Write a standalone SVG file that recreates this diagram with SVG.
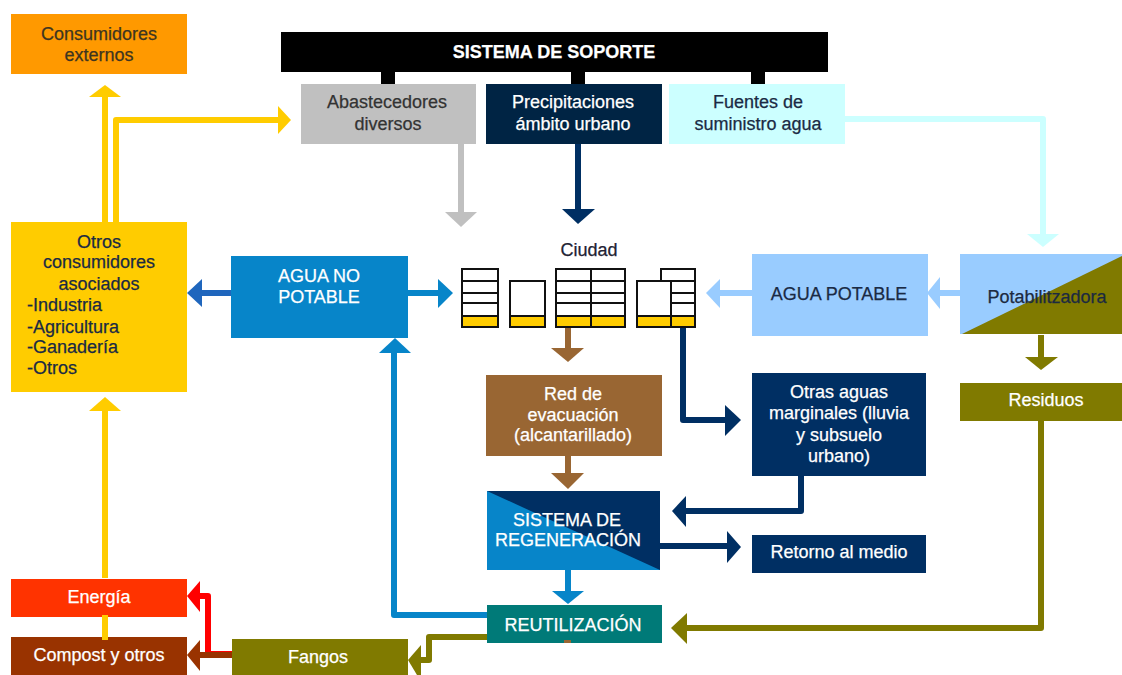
<svg xmlns="http://www.w3.org/2000/svg" width="1122" height="675" viewBox="0 0 1122 675">
<style>
text{font-family:"Liberation Sans",Arial,sans-serif;font-size:18px;text-anchor:middle;stroke-width:.25;transform:translateY(.6px)}
.s{text-anchor:start}
.w{fill:#fff;stroke:#fff}.d{fill:#1a2a44;stroke:#1a2a44}.o{fill:#3d3520;stroke:#3d3520}
.l{fill:none;stroke-width:6;stroke-linejoin:round}
.b{fill:#fff;stroke:#111;stroke-width:2}
.y{fill:#ffcc00;stroke:#111;stroke-width:2}
</style>
<rect width="1122" height="675" fill="#fff"/>
<g id="connectors">
<path class="l" stroke="#ffcc00" d="M105 222V96"/><path fill="#ffcc00" d="M89 97H121L105 85Z"/>
<path class="l" stroke="#ffcc00" d="M116 222V120H280"/><path fill="#ffcc00" d="M278 106V134L291 120Z"/>
<path class="l" stroke="#c0c0c0" d="M461 143V213"/><path fill="#c0c0c0" d="M445 212H477L461 227Z"/>
<path class="l" stroke="#002f63" d="M578 143V210"/><path fill="#002f63" d="M562 209H595L578 224Z"/>
<path class="l" stroke="#ccffff" d="M845 119H1043V235"/><path fill="#ccffff" d="M1027 234H1059L1043 247Z"/>
<path class="l" stroke="#1f66bd" d="M231 293H200"/><path fill="#1f66bd" d="M202 279V307L187 293Z"/>
<path class="l" stroke="#0785c9" d="M408 293H440"/><path fill="#0785c9" d="M438 279V308L453 293Z"/>
<path class="l" stroke="#99ccff" d="M752 293H718"/><path fill="#99ccff" d="M720 279V308L706 293Z"/>
<path class="l" stroke="#99ccff" d="M960 293H938"/><path fill="#99ccff" d="M940 277V309L927 293Z"/>
<path class="l" stroke="#807a00" d="M1041 335V358"/><path fill="#807a00" d="M1025 357H1058L1041 370Z"/>
<path class="l" stroke="#807a00" d="M1041 420V628H685"/><path fill="#807a00" d="M687 613V644L671 628Z"/>
<path class="l" stroke="#996633" d="M568 328V350"/><path fill="#996633" d="M551 348H584L568 362Z"/>
<path class="l" stroke="#996633" d="M568 456V474"/><path fill="#996633" d="M551 473H584L568 489Z"/>
<path class="l" stroke="#002f63" d="M683 328V420H727"/><path fill="#002f63" d="M725 405V436L741 420Z"/>
<path class="l" stroke="#002f63" d="M801 476V511H685"/><path fill="#002f63" d="M686 496V527L672 511Z"/>
<path class="l" stroke="#002f63" d="M660 546H728"/><path fill="#002f63" d="M727 531V563L741 547Z"/>
<path class="l" stroke="#0785c9" d="M568 570V592"/><path fill="#0785c9" d="M552 591H584L568 604Z"/>
<path class="l" stroke="#0785c9" d="M487 615H394V352"/><path fill="#0785c9" d="M379 353H411L395 338Z"/>
<path class="l" stroke="#807a00" d="M487 637H429V660H420"/><path fill="#807a00" d="M421 645V675H417L408 660Z"/>
<path class="l" stroke="#ff0000" d="M232 654H208V596H198"/><path fill="#ff0000" d="M200 581V612L187 596Z"/>
<path class="l" stroke="#993300" d="M232 655H198"/><path fill="#993300" d="M200 640V671L187 655Z"/>
<path class="l" stroke="#ffcc00" d="M105 578V404"/><path fill="#ffcc00" d="M89 411H121L105 397Z"/>
<path fill="#000" d="M381 70H395V86H381ZM571 70H585V86H571ZM751 70H765V86H751Z"/>
</g>
<g id="consumidores"><rect x="11" y="14" width="176" height="60" fill="#ff9900"/><text class="o" x="99" y="39">Consumidores</text><text class="o" x="99" y="60">externos</text></g>
<g id="soporte"><rect x="281" y="32" width="547" height="40" fill="#000"/><text class="w" x="554" y="57" font-weight="bold">SISTEMA DE SOPORTE</text></g>
<g id="abastecedores"><rect x="301" y="84" width="175" height="60" fill="#c0c0c0"/><text x="387" y="107" fill="#333" stroke="#333">Abastecedores</text><text x="388" y="129" fill="#333" stroke="#333">diversos</text></g>
<g id="precipitaciones"><rect x="486" y="84" width="176" height="60" fill="#002444"/><text class="w" x="573" y="107">Precipitaciones</text><text class="w" x="573" y="129">ámbito urbano</text></g>
<g id="fuentes"><rect x="669" y="84" width="176" height="60" fill="#ccffff"/><text class="d" x="758" y="107">Fuentes de</text><text class="d" x="758" y="129">suministro agua</text></g>
<g id="otros"><rect x="11" y="222" width="176" height="170" fill="#ffcc00"/>
<text class="d" x="99" y="247">Otros</text><text class="d" x="99" y="267">consumidores</text><text class="d" x="99" y="289">asociados</text>
<text class="d s" x="27" y="310">-Industria</text><text class="d s" x="27" y="332">-Agricultura</text><text class="d s" x="27" y="352">-Ganadería</text><text class="d s" x="27" y="373">-Otros</text></g>
<g id="agua-no-potable"><rect x="231" y="256" width="177" height="82" fill="#0785c9"/><text class="w" x="319" y="281">AGUA NO</text><text class="w" x="319" y="302">POTABLE</text></g>
<g id="ciudad"><text x="589" y="255" fill="#223" stroke="#223">Ciudad</text>
<rect class="b" x="462" y="269" width="36" height="58"/><path class="b" d="M462 281H498M462 293H498M462 303H498"/><rect class="y" x="462" y="316" width="36" height="11"/>
<rect class="b" x="510" y="281" width="35" height="46"/><rect class="y" x="510" y="316" width="35" height="11"/>
<rect class="b" x="556" y="269" width="69" height="58"/><path class="b" d="M556 281H625M556 293H625M556 303H625M591 269V327"/><rect class="y" x="556" y="316" width="69" height="11"/><path class="b" d="M591 316V327"/>
<rect class="b" x="661" y="269" width="34" height="58"/><path class="b" d="M661 281H695M661 293H695M661 303H695"/><rect class="b" x="637" y="281" width="34" height="46"/><rect class="y" x="637" y="316" width="58" height="11"/><path class="b" d="M671 316V327"/></g>
<g id="agua-potable"><rect x="752" y="254" width="176" height="82" fill="#99ccff"/><text class="d" x="839" y="299">AGUA POTABLE</text></g>
<g id="potabilizadora"><rect x="960" y="254" width="162" height="80" fill="#99ccff"/><path d="M962 334L1122 256V334Z" fill="#807a00"/><text x="1047" y="302" fill="#1c2a40" stroke="#1c2a40">Potabilitzadora</text></g>
<g id="residuos"><rect x="960" y="383" width="162" height="38" fill="#807a00"/><text class="w" x="1046" y="405">Residuos</text></g>
<g id="red"><rect x="486" y="375" width="176" height="81" fill="#996633"/><text class="w" x="573" y="399">Red de</text><text class="w" x="573" y="420">evacuación</text><text class="w" x="573" y="440">(alcantarillado)</text></g>
<g id="marginales"><rect x="752" y="373" width="174" height="103" fill="#002f63"/><text class="w" x="839" y="397">Otras aguas</text><text class="w" x="839" y="418">marginales (lluvia</text><text class="w" x="839" y="440">y subsuelo</text><text class="w" x="839" y="461">urbano)</text></g>
<g id="regeneracion"><rect x="487" y="491" width="173" height="79" fill="#002f63"/><path d="M487 491L660 570H487Z" fill="#0785c9"/><text class="w" x="567" y="525">SISTEMA DE</text><text class="w" x="568" y="545">REGENERACIÓN</text></g>
<g id="retorno"><rect x="752" y="535" width="174" height="38" fill="#002f63"/><text class="w" x="839" y="557">Retorno al medio</text></g>
<g id="reutilizacion"><rect x="487" y="605" width="175" height="38" fill="#007a78"/><text class="w" x="573" y="630">REUTILIZACIÓN</text></g>
<g id="energia"><rect x="11" y="579" width="176" height="38" fill="#ff3300"/><text class="w" x="99" y="602">Energía</text></g>
<g id="compost"><rect x="11" y="637" width="176" height="38" fill="#993300"/><text class="w" x="99" y="660">Compost y otros</text></g>
<g id="fangos"><rect x="232" y="639" width="176" height="36" fill="#807a00"/><text class="w" x="318" y="662">Fangos</text></g>
<g id="connectors-over"><path d="M105 615V640" stroke="#ffcc00" stroke-width="6"/><rect x="564" y="640" width="7" height="3" fill="#996633"/></g>
</svg>
